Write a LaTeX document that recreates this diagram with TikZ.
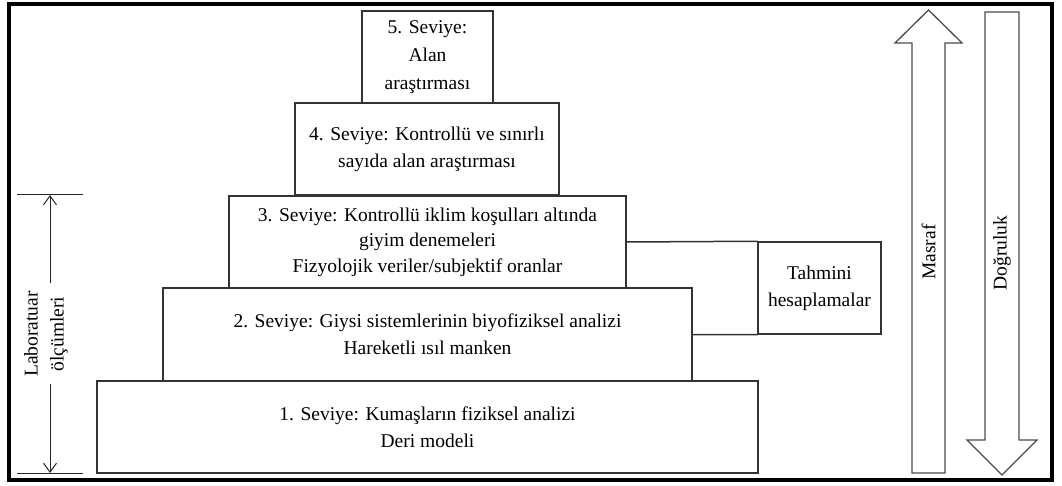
\documentclass[tikz,border=0pt]{standalone}
\usepackage{fontspec}
\setmainfont{Liberation Serif}
\usetikzlibrary{arrows.meta}

\tikzset{
  lvl/.style={draw=black!80, line width=1.5pt, fill=white, inner sep=0pt,
    align=center, font=\fontsize{19.5}{27}\selectfont},
  link/.style={draw=black!80, line width=1.5pt},
  bigarrow/.style={draw=black!70, line width=1.3pt, fill=white, line join=miter},
  dimline/.style={draw=black!85, line width=1pt},
  dimarrow/.style={dimline, -{Straight Barb[length=9pt,width=13pt,line width=1pt]}},
  vtext/.style={font=\fontsize{19.5}{26}\selectfont, align=center, inner sep=0pt}
}

\begin{document}
\begin{tikzpicture}[x=1pt, y=-1pt]
\useasboundingbox (0,0) rectangle (1062,486);

% outer frame
\draw[line width=4pt] (8.5,4.5) rectangle (1052,480);

% pyramid of levels
\node[lvl, minimum width=661pt, minimum height=92pt] (l1) at (427.5,427)
  {1. Seviye: Kumaşların fiziksel analizi\\Deri modeli};
\node[lvl, minimum width=529pt, minimum height=93pt] (l2) at (427.5,334.5)
  {2. Seviye: Giysi sistemlerinin biyofiziksel analizi\\Hareketli ısıl manken};
\node[lvl, minimum width=397pt, minimum height=92pt, font=\fontsize{19.5}{25.5}\selectfont] (l3) at (427.5,242)
  {3. Seviye: Kontrollü iklim koşulları altında\\giyim denemeleri\\Fizyolojik veriler/subjektif oranlar};
\node[lvl, minimum width=264pt, minimum height=92pt] (l4) at (427,149)
  {4. Seviye: Kontrollü ve sınırlı\\sayıda alan araştırması};
\node[lvl, minimum width=131pt, minimum height=92pt, font=\fontsize{19.5}{28}\selectfont] (l5) at (427.5,57)
  {5. Seviye:\\Alan\\araştırması};

% estimation box and its links to levels 3 and 2
\node[lvl, minimum width=123pt, minimum height=92pt] (tah) at (819.5,288)
  {Tahmini\\hesaplamalar};
\draw[link] (l3.east) -- (tah.north west);
\draw[link] (l2.east) -- (tah.south west);

% laboratory measurement range
\coordinate (labtop) at (50,195);
\coordinate (labbot) at (50,473);
\coordinate (gaptop) at (50,283);
\coordinate (gapbot) at (50,384);
\draw[dimline] (17,195) -- (83,195);
\draw[dimline] (17,473) -- (83,473);
\draw[dimarrow] (gaptop) -- (labtop);
\draw[dimarrow] (gapbot) -- (labbot);
\node[vtext, rotate=90] (lab) at (46,334) {Laboratuar\\ölçümleri};

% cost arrow (upwards)
\draw[bigarrow] (912,473) -- (912,43) -- (895,43) -- (928.5,10) -- (962,43)
  -- (945,43) -- (945,473) -- cycle;
\node[vtext, rotate=90] (cost) at (928.5,252) {Masraf};

% accuracy arrow (downwards)
\draw[bigarrow] (985,12) -- (985,440) -- (967,440) -- (1002,475) -- (1037,440)
  -- (1019,440) -- (1019,12) -- cycle;
\node[vtext, rotate=90] (acc) at (1002,253) {Doğruluk};
\end{tikzpicture}
\end{document}
